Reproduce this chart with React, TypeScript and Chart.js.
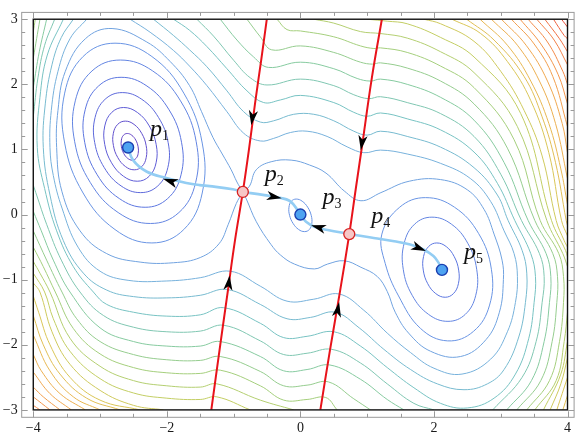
import React, { useEffect, useRef } from "react";
import { Chart, registerables } from "chart.js";

Chart.register(...registerables);

const W = 581;
const H = 439;
const X_MIN = -4, X_MAX = 4, Y_MIN = -3, Y_MAX = 3;
const FRAME = { left: 33.3, right: 568.7, top: 8.7, bottom: 409.7 };
const BOX = { left: 21.7, right: 575.3, top: 1.7, bottom: 417.3 };
const pxPerX = (FRAME.right - FRAME.left) / (X_MAX - X_MIN);
const pxPerY = (FRAME.bottom - FRAME.top) / (Y_MAX - Y_MIN);

const xTickLabels = [-4, -2, 0, 2, 4];
const yTickLabels = [-3, -2, -1, 0, 1, 2, 3];

// critical points
const minimaPts = [[-2.58, 1.03], [0, 0], [2.12, -0.85]];
const saddlePts = [[-0.862, 0.347], [0.732, -0.3]];
const pointNames = ["1", "2", "3", "4", "5"];

// manifolds
const red1 = [[-1.334, -3.0], [-1.2, -2.0], [-1.09, -1.2], [-0.98, -0.4], [-0.862, 0.347], [-0.77, 1.0], [-0.68, 1.7], [-0.59, 2.35], [-0.503, 3.0]];
const red2 = [[0.299, -3.0], [0.44, -2.1], [0.59, -1.2], [0.732, -0.3], [0.83, 0.4], [0.92, 1.03], [1.07, 2.1], [1.22, 3.0]];
const blueP2P1 = [[-0.862, 0.347], [-1.012, 0.388], [-1.36, 0.437], [-1.509, 0.452], [-1.708, 0.486], [-2.007, 0.561], [-2.305, 0.661], [-2.506, 0.836], [-2.58, 1.03]];
const blueP2P3 = [[-0.862, 0.347], [-0.538, 0.298], [-0.288, 0.253], [-0.164, 0.212], [-0.09, 0.138], [0, 0]];
const blueP4P3 = [[0.732, -0.3], [0.408, -0.236], [0.209, -0.187], [0.085, -0.112], [0, 0]];
const blueP4P5 = [[0.732, -0.3], [1.056, -0.352], [1.404, -0.411], [1.644, -0.461], [1.842, -0.536], [1.992, -0.636], [2.066, -0.735], [2.12, -0.85]];

// arrows: [tailX, tailY, tipX, tipY]
const arrowMarks = [
  [-0.7, 1.62, -0.735, 1.37],
  [-1.09, -1.2, -1.06, -0.935],
  [0.94, 1.23, 0.905, 0.986],
  [0.535, -1.6, 0.58, -1.344],
  [-1.83, 0.47, -2.057, 0.55],
  [-0.52, 0.295, -0.28, 0.252],
  [0.4, -0.235, 0.16, -0.165],
  [1.66, -0.465, 1.88, -0.56],
];

// ---- contour lines ----
const cP1L0 = [[-2.592, 1.245], [-2.525, 1.218], [-2.465, 1.143], [-2.43, 1.04], [-2.429, 0.938], [-2.461, 0.863], [-2.518, 0.835], [-2.586, 0.863], [-2.645, 0.938], [-2.68, 1.04], [-2.681, 1.143], [-2.65, 1.218]];
const cP1L1 = [[-2.622, 1.435], [-2.491, 1.385], [-2.377, 1.248], [-2.31, 1.061], [-2.309, 0.874], [-2.374, 0.737], [-2.488, 0.687], [-2.619, 0.737], [-2.734, 0.874], [-2.8, 1.061], [-2.801, 1.248], [-2.736, 1.385]];
const cP1L2 = [[-2.647, 1.644], [-2.441, 1.568], [-2.263, 1.361], [-2.16, 1.078], [-2.161, 0.795], [-2.264, 0.588], [-2.443, 0.512], [-2.649, 0.588], [-2.828, 0.795], [-2.93, 1.078], [-2.929, 1.361], [-2.826, 1.568]];
const cP1L3 = [[-2.668, 1.873], [-2.375, 1.77], [-2.123, 1.489], [-1.98, 1.105], [-1.985, 0.721], [-2.135, 0.44], [-2.392, 0.337], [-2.685, 0.44], [-2.937, 0.721], [-3.08, 1.105], [-3.075, 1.489], [-2.925, 1.77]];
const cP1L4 = [[-2.685, 2.108], [-2.298, 1.974], [-1.967, 1.609], [-1.78, 1.11], [-1.787, 0.611], [-1.987, 0.246], [-2.325, 0.112], [-2.712, 0.246], [-3.043, 0.611], [-3.23, 1.11], [-3.223, 1.609], [-3.023, 1.974]];
const cP1L5 = [[-2.696, 2.373], [-2.211, 2.205], [-1.795, 1.746], [-1.56, 1.118], [-1.569, 0.49], [-1.819, 0.031], [-2.244, -0.137], [-2.729, 0.031], [-3.145, 0.49], [-3.38, 1.118], [-3.371, 1.746], [-3.121, 2.205]];
const cP1L6 = [[-2.776, 2.632], [-2.224, 2.427], [-1.746, 1.865], [-1.47, 1.098], [-1.47, 0.331], [-1.746, -0.23], [-2.224, -0.436], [-2.776, -0.23], [-3.254, 0.331], [-3.53, 1.098], [-3.53, 1.865], [-3.254, 2.427]];
const cP3L6 = [[-0.063, 0.238], [0.027, 0.205], [0.109, 0.113], [0.162, -0.012], [0.171, -0.137], [0.135, -0.229], [0.063, -0.262], [-0.027, -0.229], [-0.109, -0.137], [-0.162, -0.012], [-0.171, 0.113], [-0.135, 0.205]];
const cP5L4 = [[2.042, -0.436], [2.184, -0.492], [2.303, -0.645], [2.37, -0.853], [2.366, -1.062], [2.292, -1.214], [2.168, -1.27], [2.027, -1.214], [1.907, -1.062], [1.84, -0.853], [1.844, -0.645], [1.919, -0.492]];
const cP5L5 = [[1.97, -0.04], [2.261, -0.147], [2.506, -0.44], [2.64, -0.84], [2.626, -1.24], [2.469, -1.533], [2.21, -1.64], [1.919, -1.533], [1.674, -1.24], [1.54, -0.84], [1.554, -0.44], [1.711, -0.147]];
const cP5L6 = [[1.875, 0.26], [2.307, 0.113], [2.668, -0.29], [2.86, -0.84], [2.833, -1.39], [2.593, -1.793], [2.205, -1.94], [1.8, -1.75], [1.47, -1.25], [1.27, -0.75], [1.22, -0.3], [1.487, 0.113]];
const cL7a = [[-0.862, 0.347], [-0.95, 0.5], [-1.036, 0.687], [-1.17, 0.93], [-1.31, 1.185], [-1.48, 1.58], [-1.66, 1.98], [-1.95, 2.35], [-2.3, 2.65], [-2.82, 2.857], [-3.22, 2.7], [-3.52, 2.2], [-3.63, 1.6], [-3.65, 1.03], [-3.57, 0.35], [-3.3, -0.25], [-2.9, -0.6], [-2.4, -0.73], [-1.9, -0.74], [-1.5, -0.66], [-1.22, -0.45], [-1.08, -0.15], [-0.96, 0.17], [-0.862, 0.347]];
const cL7b = [[-0.862, 0.347], [-0.762, 0.437], [-0.662, 0.687], [-0.438, 0.811], [-0.139, 0.836], [0.134, 0.762], [0.384, 0.636], [0.657, 0.362], [0.907, 0.212], [1.206, 0.337], [1.629, 0.512], [2.1, 0.537], [2.5, 0.38], [2.75, 0.08], [2.9, -0.3], [3.02, -0.7], [3.04, -1.0], [2.98, -1.5], [2.78, -1.92], [2.4, -2.18], [1.95, -2.1], [1.62, -1.82], [1.42, -1.5], [1.3, -1.18], [1.15, -0.95], [0.907, -0.81], [0.657, -0.71], [0.408, -0.76], [0.209, -0.835], [-0.09, -0.76], [-0.3, -0.62], [-0.44, -0.46], [-0.66, -0.11], [-0.81, 0.24], [-0.862, 0.347]];
const cL8 = [[-2.55, 3.0], [-2.25, 2.8], [-1.9, 2.52], [-1.66, 2.28], [-1.4, 1.98], [-1.1, 1.58], [-0.85, 1.25], [-0.6, 1.13], [-0.4, 1.17], [-0.15, 1.26], [0.1, 1.28], [0.4, 1.2], [0.7, 1.04], [0.95, 0.95], [1.2, 0.99], [1.6, 0.93], [2.1, 0.786], [2.55, 0.55], [2.85, 0.2], [3.05, -0.25], [3.2, -0.6], [3.25, -0.95], [3.22, -1.35], [3.1, -1.8], [2.85, -2.22], [2.42, -2.45], [2.0, -2.36], [1.65, -2.12], [1.3, -1.82], [0.95, -1.47], [0.58, -1.22], [0.2, -1.3], [-0.2, -1.33], [-0.6, -1.1], [-1.05, -0.87], [-1.5, -0.97], [-2.0, -1.02], [-2.58, -1.01], [-3.0, -0.87], [-3.33, -0.5], [-3.57, 0.1], [-3.7, 0.6], [-3.75, 1.03], [-3.73, 1.6], [-3.63, 2.2], [-3.45, 2.7], [-3.2, 3.0]];
const cL9 = [[-2.2, 3.0], [-1.9, 2.75], [-1.66, 2.53], [-1.4, 2.27], [-1.1, 1.9], [-0.85, 1.58], [-0.6, 1.42], [-0.4, 1.44], [-0.1, 1.54], [0.2, 1.54], [0.5, 1.44], [0.8, 1.28], [1.0, 1.22], [1.2, 1.28], [1.6, 1.2], [2.1, 1.035], [2.6, 0.72], [2.95, 0.3], [3.11, -0.09], [3.32, -0.55], [3.39, -0.9], [3.37, -1.35], [3.27, -1.88], [3.05, -2.38], [2.8, -2.6], [2.45, -2.69], [2.05, -2.6], [1.65, -2.38], [1.25, -2.07], [0.88, -1.74], [0.52, -1.5], [0.15, -1.58], [-0.2, -1.6], [-0.6, -1.38], [-1.1, -1.15], [-1.5, -1.24], [-2.0, -1.28], [-2.5, -1.26], [-2.9, -1.16], [-3.25, -0.9], [-3.55, -0.4], [-3.75, 0.3], [-3.85, 1.03], [-3.82, 1.7], [-3.72, 2.3], [-3.58, 2.72], [-3.4, 3.0]];
const cL10 = [[-1.9, 3.0], [-1.66, 2.83], [-1.4, 2.58], [-1.1, 2.24], [-0.8, 1.9], [-0.55, 1.72], [-0.3, 1.76], [0.0, 1.83], [0.5, 1.72], [0.8, 1.57], [1.0, 1.51], [1.2, 1.56], [1.6, 1.47], [2.1, 1.3], [2.6, 0.96], [2.95, 0.48], [3.21, -0.09], [3.45, -0.6], [3.52, -0.95], [3.5, -1.35], [3.42, -1.9], [3.22, -2.45], [2.9, -2.82], [2.5, -2.97], [2.1, -2.9], [1.7, -2.66], [1.3, -2.35], [0.9, -2.02], [0.5, -1.8], [0.1, -1.87], [-0.25, -1.89], [-0.6, -1.67], [-1.15, -1.43], [-1.5, -1.54], [-2.0, -1.56], [-2.5, -1.5], [-2.9, -1.38], [-3.1, -1.19], [-3.4, -0.8], [-3.65, -0.25], [-3.83, 0.4], [-3.94, 1.03], [-3.9, 1.8], [-3.79, 2.45], [-3.55, 3.0]];
const cL11a = [[-1.55, 3.0], [-1.3, 2.74], [-1.0, 2.37], [-0.75, 2.1], [-0.5, 1.99], [0.0, 2.08], [0.5, 1.98], [0.8, 1.84], [1.02, 1.78], [1.2, 1.81], [1.6, 1.72], [2.1, 1.55], [2.6, 1.2], [3.0, 0.62], [3.31, -0.09], [3.58, -0.6], [3.65, -0.95], [3.62, -1.35], [3.53, -1.95], [3.32, -2.5], [2.88, -3.0]];
const cL11b = [[2.0, -3.0], [1.7, -2.9], [1.3, -2.6], [0.9, -2.28], [0.47, -2.07], [0.1, -2.13], [-0.25, -2.15], [-0.6, -1.94], [-1.15, -1.7], [-1.5, -1.79], [-2.0, -1.8], [-2.5, -1.73], [-2.95, -1.55], [-3.3, -1.19], [-3.58, -0.7], [-3.8, -0.15], [-3.95, 0.3], [-4.0, 0.45]];
const cL11c = [[-4.0, 1.5], [-3.93, 2.1], [-3.83, 2.6], [-3.68, 3.0]];
const cL12a = [[-1.2, 3.0], [-0.95, 2.68], [-0.7, 2.42], [-0.48, 2.26], [0.0, 2.34], [0.5, 2.24], [0.85, 2.09], [1.05, 2.05], [1.2, 2.08], [1.6, 2.0], [2.1, 1.8], [2.6, 1.45], [3.05, 0.8], [3.41, -0.09], [3.68, -0.6], [3.75, -0.95], [3.73, -1.35], [3.65, -1.95], [3.46, -2.55], [3.09, -3.0]];
const cL12b = [[1.55, -3.0], [1.3, -2.84], [0.9, -2.53], [0.44, -2.31], [0.1, -2.38], [-0.25, -2.4], [-0.6, -2.18], [-1.2, -1.95], [-1.5, -2.02], [-2.0, -2.02], [-2.5, -1.95], [-3.0, -1.74], [-3.45, -1.19], [-3.7, -0.7], [-3.88, -0.25], [-4.0, 0.05]];
const cL12c = [[-4.0, 1.95], [-3.91, 2.5], [-3.8, 3.0]];
const cL13a = [[-0.8, 3.0], [-0.6, 2.73], [-0.43, 2.53], [0.0, 2.59], [0.5, 2.49], [0.9, 2.34], [1.08, 2.31], [1.2, 2.33], [1.6, 2.25], [2.1, 2.05], [2.6, 1.7], [3.1, 1.02], [3.51, -0.09], [3.78, -0.6], [3.85, -0.95], [3.84, -1.35], [3.77, -1.95], [3.6, -2.55], [3.24, -3.0]];
const cL13b = [[1.05, -3.0], [0.8, -2.83], [0.42, -2.57], [0.1, -2.62], [-0.25, -2.63], [-0.6, -2.41], [-1.2, -2.18], [-1.5, -2.24], [-2.0, -2.23], [-2.5, -2.15], [-3.0, -1.95], [-3.35, -1.6], [-3.57, -1.19], [-3.8, -0.7], [-4.0, -0.25]];
const cL13c = [[-4.0, 2.4], [-3.9, 3.0]];
const cL14a = [[-0.35, 3.0], [-0.2, 2.84], [0.0, 2.82], [0.5, 2.73], [0.9, 2.59], [1.1, 2.55], [1.2, 2.56], [1.6, 2.49], [2.1, 2.28], [2.6, 1.95], [3.2, 1.15], [3.59, -0.09], [3.87, -0.6], [3.94, -0.95], [3.94, -1.35], [3.88, -1.95], [3.73, -2.55], [3.39, -3.0]];
const cL14b = [[0.55, -3.0], [0.38, -2.81], [0.1, -2.84], [-0.25, -2.85], [-0.6, -2.63], [-1.2, -2.39], [-1.5, -2.44], [-2.0, -2.43], [-2.5, -2.35], [-3.0, -2.14], [-3.4, -1.75], [-3.67, -1.19], [-3.85, -0.8], [-4.0, -0.5]];
const cL14c = [[-4.0, 2.8], [-3.97, 3.0]];
const cL15a = [[0.2, 3.0], [0.5, 2.94], [0.9, 2.81], [1.2, 2.78], [1.6, 2.71], [2.1, 2.5], [2.6, 2.18], [3.25, 1.35], [3.69, -0.09], [3.93, -0.6], [4.0, -0.8]];
const cL15b = [[4.0, -1.5], [3.95, -1.95], [3.83, -2.55], [3.51, -3.0]];
const cL15c = [[-0.1, -3.0], [-0.6, -2.85], [-1.25, -2.6], [-1.5, -2.65], [-2.0, -2.63], [-2.5, -2.55], [-3.0, -2.33], [-3.45, -1.9], [-3.75, -1.19], [-3.9, -0.9], [-4.0, -0.72]];
const cL16a = [[1.0, 3.0], [1.3, 2.97], [1.6, 2.93], [2.1, 2.72], [2.6, 2.42], [3.3, 1.55], [3.76, -0.09], [3.97, -0.55], [4.0, -0.65]];
const cL16b = [[4.0, -1.95], [3.9, -2.45], [3.64, -3.0]];
const cL16c = [[-0.75, -3.0], [-1.25, -2.8], [-1.5, -2.84], [-2.0, -2.82], [-2.5, -2.74], [-3.0, -2.52], [-3.45, -2.1], [-3.7, -1.6], [-3.83, -1.19], [-4.0, -0.9]];
const cL17a = [[1.85, 3.0], [2.1, 2.93], [2.6, 2.66], [3.0, 2.2], [3.35, 1.6], [3.62, 0.9], [3.83, -0.09], [3.95, -0.4], [4.0, -0.5]];
const cL17b = [[4.0, -2.2], [3.9, -2.6], [3.74, -3.0]];
const cL17c = [[-2.05, -3.0], [-2.5, -2.93], [-3.0, -2.7], [-3.45, -2.3], [-3.72, -1.8], [-3.9, -1.19], [-4.0, -1.05]];
const cL18a = [[2.27, 3.0], [2.7, 2.78], [3.1, 2.35], [3.45, 1.75], [3.72, 0.95], [3.91, -0.09], [4.0, -0.33]];
const cL18b = [[4.0, -2.5], [3.84, -3.0]];
const cL18c = [[-2.4, -3.0], [-3.0, -2.85], [-3.45, -2.5], [-3.75, -2.0], [-3.92, -1.5], [-4.0, -1.25]];
const cL19a = [[2.49, 3.0], [2.9, 2.68], [3.35, 2.12], [3.62, 1.5], [3.82, 0.8], [3.98, -0.09], [4.0, -0.17]];
const cL19b = [[4.0, -2.78], [3.93, -3.0]];
const cL19c = [[-2.7, -3.0], [-3.2, -2.82], [-3.6, -2.45], [-3.85, -2.0], [-4.0, -1.55]];
const cL20a = [[2.69, 3.0], [3.1, 2.6], [3.45, 2.05], [3.72, 1.4], [3.9, 0.7], [4.0, 0.15]];
const cL20c = [[-3.0, -3.0], [-3.4, -2.8], [-3.75, -2.4], [-4.0, -1.85]];
const cL21a = [[2.86, 3.0], [3.25, 2.6], [3.58, 2.05], [3.82, 1.4], [4.0, 0.55]];
const cL21c = [[-3.22, -3.0], [-3.6, -2.75], [-3.88, -2.4], [-4.0, -2.15]];
const cL22a = [[3.01, 3.0], [3.38, 2.6], [3.7, 2.05], [3.92, 1.4], [4.0, 0.95]];
const cL22c = [[-3.43, -3.0], [-3.75, -2.75], [-4.0, -2.42]];
const cL23a = [[3.16, 3.0], [3.5, 2.62], [3.78, 2.12], [4.0, 1.35]];
const cL23c = [[-3.6, -3.0], [-3.85, -2.8], [-4.0, -2.65]];
const cL24a = [[3.29, 3.0], [3.6, 2.62], [3.86, 2.15], [4.0, 1.7]];
const cL24c = [[-3.75, -3.0], [-4.0, -2.8]];
const cL25a = [[3.41, 3.0], [3.7, 2.65], [3.93, 2.2], [4.0, 2.0]];
const cL25c = [[-3.9, -3.0], [-4.0, -2.93]];
const cL26a = [[3.54, 3.0], [3.8, 2.68], [4.0, 2.3]];
const cL27a = [[3.66, 3.0], [3.88, 2.7], [4.0, 2.5]];
const cL28a = [[3.79, 3.0], [3.95, 2.75], [4.0, 2.7]];
const cL29a = [[3.91, 3.0], [4.0, 2.88]];

const contourTable: { level: number; closed: boolean; pts: number[][] }[] = [
  { level: 0, closed: true, pts: cP1L0 },
  { level: 1, closed: true, pts: cP1L1 },
  { level: 2, closed: true, pts: cP1L2 },
  { level: 3, closed: true, pts: cP1L3 },
  { level: 4, closed: true, pts: cP1L4 },
  { level: 5, closed: true, pts: cP1L5 },
  { level: 6, closed: true, pts: cP1L6 },
  { level: 6, closed: true, pts: cP3L6 },
  { level: 4, closed: true, pts: cP5L4 },
  { level: 5, closed: true, pts: cP5L5 },
  { level: 6, closed: true, pts: cP5L6 },
  { level: 7, closed: false, pts: cL7a },
  { level: 7, closed: false, pts: cL7b },
  { level: 8, closed: false, pts: cL8 },
  { level: 9, closed: false, pts: cL9 },
  { level: 10, closed: false, pts: cL10 },
  { level: 11, closed: false, pts: cL11a },
  { level: 11, closed: false, pts: cL11b },
  { level: 11, closed: false, pts: cL11c },
  { level: 12, closed: false, pts: cL12a },
  { level: 12, closed: false, pts: cL12b },
  { level: 12, closed: false, pts: cL12c },
  { level: 13, closed: false, pts: cL13a },
  { level: 13, closed: false, pts: cL13b },
  { level: 13, closed: false, pts: cL13c },
  { level: 14, closed: false, pts: cL14a },
  { level: 14, closed: false, pts: cL14b },
  { level: 14, closed: false, pts: cL14c },
  { level: 15, closed: false, pts: cL15a },
  { level: 15, closed: false, pts: cL15b },
  { level: 15, closed: false, pts: cL15c },
  { level: 16, closed: false, pts: cL16a },
  { level: 16, closed: false, pts: cL16b },
  { level: 16, closed: false, pts: cL16c },
  { level: 17, closed: false, pts: cL17a },
  { level: 17, closed: false, pts: cL17b },
  { level: 17, closed: false, pts: cL17c },
  { level: 18, closed: false, pts: cL18a },
  { level: 18, closed: false, pts: cL18b },
  { level: 18, closed: false, pts: cL18c },
  { level: 19, closed: false, pts: cL19a },
  { level: 19, closed: false, pts: cL19b },
  { level: 19, closed: false, pts: cL19c },
  { level: 20, closed: false, pts: cL20a },
  { level: 20, closed: false, pts: cL20c },
  { level: 21, closed: false, pts: cL21a },
  { level: 21, closed: false, pts: cL21c },
  { level: 22, closed: false, pts: cL22a },
  { level: 22, closed: false, pts: cL22c },
  { level: 23, closed: false, pts: cL23a },
  { level: 23, closed: false, pts: cL23c },
  { level: 24, closed: false, pts: cL24a },
  { level: 24, closed: false, pts: cL24c },
  { level: 25, closed: false, pts: cL25a },
  { level: 25, closed: false, pts: cL25c },
  { level: 26, closed: false, pts: cL26a },
  { level: 27, closed: false, pts: cL27a },
  { level: 28, closed: false, pts: cL28a },
  { level: 29, closed: false, pts: cL29a },
];

const colorStops = [
  [0, 100, 68, 196],
  [2, 94, 92, 214],
  [4, 92, 118, 224],
  [6, 105, 148, 228],
  [8, 120, 178, 220],
  [10, 120, 195, 195],
  [12, 135, 203, 160],
  [14, 165, 207, 125],
  [16, 195, 206, 100],
  [18, 218, 198, 88],
  [20, 232, 184, 84],
  [22, 240, 168, 80],
  [24, 243, 150, 76],
  [26, 242, 128, 72],
  [28, 238, 100, 66],
  [29, 232, 80, 60],
];
function levelColor(l: number) {
  for (let i = 0; i < colorStops.length - 1; i++) {
    const a = colorStops[i], b = colorStops[i + 1];
    if (l <= b[0]) {
      const t = (l - a[0]) / (b[0] - a[0]);
      const c = [1, 2, 3].map((k) => Math.round(a[k] + (b[k] - a[k]) * t));
      return `rgb(${c[0]},${c[1]},${c[2]})`;
    }
  }
  const z = colorStops[colorStops.length - 1];
  return `rgb(${z[1]},${z[2]},${z[3]})`;
}

const CLIP = {
  left: -(FRAME.left - BOX.left),
  right: -(BOX.right - FRAME.right),
  top: -(FRAME.top - BOX.top),
  bottom: -(BOX.bottom - FRAME.bottom),
};

const fmt = (v: number) => (v < 0 ? "\u2212" + Math.abs(v) : String(v));
const SERIF = "'Liberation Serif', 'Times New Roman', serif";

const loopPlugin = {
  id: "loopLines",
  afterDatasetUpdate(chart: any, args: any) {
    const ds = chart.data.datasets[args.index];
    if (ds && ds.closedLoop && args.meta.dataset) {
      const line = args.meta.dataset;
      line._loop = true;
      line._fullLoop = true;
      line._segments = undefined;
      line._path = undefined;
      line._pointsUpdated = false;
    }
  },
};

function drawArrow(ctx: CanvasRenderingContext2D, x0: number, y0: number, x1: number, y1: number) {
  const dx = x1 - x0, dy = y1 - y0;
  const len = Math.hypot(dx, dy) || 1;
  const ux = dx / len, uy = dy / len;
  const nx = -uy, ny = ux;
  const L = 15, w = 4.6, notch = 4;
  ctx.beginPath();
  ctx.moveTo(x1, y1);
  ctx.lineTo(x1 - L * ux + w * nx, y1 - L * uy + w * ny);
  ctx.lineTo(x1 - (L - notch) * ux, y1 - (L - notch) * uy);
  ctx.lineTo(x1 - L * ux - w * nx, y1 - L * uy - w * ny);
  ctx.closePath();
  ctx.fillStyle = "#000";
  ctx.fill();
}

const decorPlugin = {
  id: "decor",
  afterDatasetsDraw(chart: any) {
    const { ctx } = chart;
    const xs = chart.scales.x, ys = chart.scales.y;
    const px = (v: number) => xs.getPixelForValue(v);
    const py = (v: number) => ys.getPixelForValue(v);
    ctx.save();
    ctx.strokeStyle = "#111";
    ctx.lineWidth = 1.4;
    ctx.strokeRect(px(X_MIN), py(Y_MAX), px(X_MAX) - px(X_MIN), py(Y_MIN) - py(Y_MAX));
    const ca = chart.chartArea;
    ctx.strokeStyle = "#9a9a9a";
    ctx.lineWidth = 1;
    ctx.strokeRect(ca.left, ca.top, ca.right - ca.left, ca.bottom - ca.top);
    ctx.beginPath();
    for (let i = 0; i <= 16; i++) {
      const v = X_MIN + i * 0.5;
      const major = xTickLabels.includes(v);
      const len = major ? 6 : 3.5;
      const x = Math.round(px(v)) + 0.5;
      ctx.moveTo(x, ca.bottom); ctx.lineTo(x, ca.bottom - len);
      ctx.moveTo(x, ca.top); ctx.lineTo(x, ca.top + len);
    }
    for (let i = 0; i <= 30; i++) {
      const v = Math.round((Y_MIN + i * 0.2) * 10) / 10;
      const major = Math.abs(v - Math.round(v)) < 1e-6;
      const len = major ? 6 : 3.5;
      const y = Math.round(py(v)) + 0.5;
      ctx.moveTo(ca.left, y); ctx.lineTo(ca.left + len, y);
      ctx.moveTo(ca.right, y); ctx.lineTo(ca.right - len, y);
    }
    ctx.stroke();
    for (const a of arrowMarks) drawArrow(ctx, px(a[0]), py(a[1]), px(a[2]), py(a[3]));
    ctx.restore();
  },
  afterDraw(chart: any) {
    const { ctx } = chart;
    const xs = chart.scales.x, ys = chart.scales.y;
    const allPts = [minimaPts[0], saddlePts[0], minimaPts[1], saddlePts[1], minimaPts[2]];
    ctx.save();
    ctx.fillStyle = "#111";
    ctx.textBaseline = "alphabetic";
    ctx.textAlign = "left";
    allPts.forEach((p, i) => {
      const x = xs.getPixelForValue(p[0]) + 22;
      const y = ys.getPixelForValue(p[1]) - 11;
      ctx.font = `italic 24px ${SERIF}`;
      ctx.fillText("p", x, y);
      const w = ctx.measureText("p").width;
      ctx.font = `14px ${SERIF}`;
      ctx.fillText(pointNames[i], x + w, y + 4);
    });
    ctx.restore();
  },
};

export default function App() {
  const ref = useRef<HTMLCanvasElement>(null);
  useEffect(() => {
    document.body.style.margin = "0";
    const canvas = ref.current!;
    const xMin = X_MIN - (FRAME.left - BOX.left) / pxPerX;
    const xMax = X_MAX + (BOX.right - FRAME.right) / pxPerX;
    const yMax = Y_MAX + (FRAME.top - BOX.top) / pxPerY;
    const yMin = Y_MIN - (BOX.bottom - FRAME.bottom) / pxPerY;

    const contourSets = contourTable.map((c) => ({
      data: c.pts.map(([x, y]) => ({ x, y })),
      borderColor: levelColor(c.level),
      borderWidth: 1,
      pointRadius: 0,
      tension: 0.4,
      clip: CLIP,
      order: 10,
      closedLoop: c.closed,
    }));
    const curveSet = (pts: number[][], color: string, width: number, order: number) => ({
      data: pts.map(([x, y]) => ({ x, y })),
      borderColor: color,
      borderWidth: width,
      pointRadius: 0,
      tension: 0.4,
      clip: CLIP,
      order,
    });
    const datasets: any[] = [
      ...contourSets,
      curveSet(blueP2P1, "#93cdf3", 2.6, 5),
      curveSet(blueP2P3, "#93cdf3", 2.6, 5),
      curveSet(blueP4P3, "#93cdf3", 2.6, 5),
      curveSet(blueP4P5, "#93cdf3", 2.6, 5),
      curveSet(red1, "#e8131b", 2, 4),
      curveSet(red2, "#e8131b", 2, 4),
      {
        data: saddlePts.map(([x, y]) => ({ x, y })),
        showLine: false,
        pointRadius: 5.5,
        pointBackgroundColor: "#f7c6c6",
        pointBorderColor: "#d62222",
        pointBorderWidth: 1.3,
        order: 1,
        clip: false,
      },
      {
        data: minimaPts.map(([x, y]) => ({ x, y })),
        showLine: false,
        pointRadius: 5.5,
        pointBackgroundColor: "#4ea3f1",
        pointBorderColor: "#1a3fb0",
        pointBorderWidth: 1.4,
        order: 0,
        clip: false,
      },
    ];

    const chart = new Chart(canvas, {
      type: "line",
      data: { datasets },
      options: {
        animation: false,
        responsive: false,
        devicePixelRatio: 1,
        events: [],
        layout: { padding: { top: BOX.top, right: W - BOX.right, left: 0, bottom: 0 } },
        plugins: { legend: { display: false }, tooltip: { enabled: false } },
        scales: {
          x: {
            type: "linear",
            min: xMin,
            max: xMax,
            grid: { display: false, drawTicks: false },
            border: { display: false },
            afterBuildTicks: (s: any) => { s.ticks = xTickLabels.map((v) => ({ value: v })); },
            afterFit: (s: any) => { s.height = H - BOX.bottom; },
            ticks: { callback: (v: any) => fmt(Number(v)), font: { family: SERIF, size: 14 }, color: "#1a1a1a", padding: 3, maxRotation: 0, autoSkip: false },
          },
          y: {
            type: "linear",
            min: yMin,
            max: yMax,
            grid: { display: false, drawTicks: false },
            border: { display: false },
            afterBuildTicks: (s: any) => { s.ticks = yTickLabels.map((v) => ({ value: v })); },
            afterFit: (s: any) => { s.width = BOX.left; },
            ticks: { callback: (v: any) => fmt(Number(v)), font: { family: SERIF, size: 14 }, color: "#1a1a1a", padding: 4, autoSkip: false },
          },
        },
      },
      plugins: [loopPlugin, decorPlugin],
    } as any);
    return () => chart.destroy();
  }, []);
  return (
    <div style={{ width: W, height: H }}>
      <canvas ref={ref} width={W} height={H} style={{ display: "block" }} />
    </div>
  );
}
